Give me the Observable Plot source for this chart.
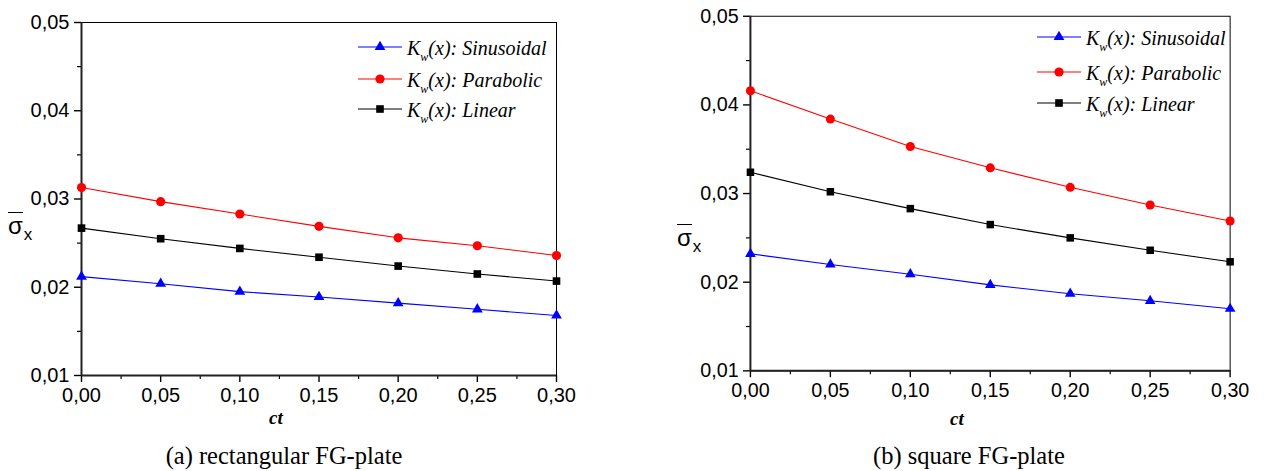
<!DOCTYPE html>
<html>
<head>
<meta charset="utf-8">
<script src="https://cdn.jsdelivr.net/npm/d3@7"></script>
<script src="https://cdn.jsdelivr.net/npm/@observablehq/plot@0.6"></script>
<style>
  html, body { margin: 0; padding: 0; background: #fff; }
  #wrap { position: relative; width: 1271px; height: 471px; background: #fff; overflow: hidden; }
  .abs { position: absolute; }
  .ylab { font-family: 'Liberation Sans', Arial, sans-serif; font-size: 24px; line-height: 1; white-space: nowrap; }
  .ylab .sig { border-top: 1.6px solid #000; padding-top: 2px; display: inline-block; line-height: 0.9; }
  .ylab sub { font-size: 17px; vertical-align: -6px; margin-left: 1px; }
  .ct { font-family: 'Liberation Serif', 'Times New Roman', serif; font-style: italic; font-weight: bold; font-size: 19px; }
  .cap { font-family: 'Liberation Serif', 'Times New Roman', serif; font-size: 24.5px; white-space: nowrap; transform: translateX(-50%); }
</style>
</head>
<body>
<div id="wrap">
  <div id="pa" class="abs" style="left:0;top:0"></div>
  <div id="pb" class="abs" style="left:680px;top:0"></div>
  <div class="abs ylab" style="left:8px;top:212px"><span class="sig">σ</span><sub>x</sub></div>
  <div class="abs ylab" style="left:677px;top:224px"><span class="sig">σ</span><sub>x</sub></div>
  <div class="abs ct" style="left:269px;top:407px">ct</div>
  <div class="abs ct" style="left:950px;top:408px">ct</div>
  <div class="abs cap" style="left:284px;top:442px">(a) rectangular FG-plate</div>
  <div class="abs cap" style="left:969px;top:442px">(b) square FG-plate</div>
  <svg id="lga" class="abs" style="left:0;top:0" width="1271" height="471"></svg>
</div>
<script>
// ---- data ----
const ct = [0, 0.05, 0.10, 0.15, 0.20, 0.25, 0.30];
const xTicks = [0, 0.05, 0.10, 0.15, 0.20, 0.25, 0.30];
const xMinor = [0.025, 0.075, 0.125, 0.175, 0.225, 0.275];
const yTicks = [0.01, 0.02, 0.03, 0.04, 0.05];
const yMinor = [0.015, 0.025, 0.035, 0.045];

const seriesNames = ["Sinusoidal", "Parabolic", "Linear"];
const seriesColors = ["#0000ff", "#ff0000", "#000000"];
const seriesSymbols = ["triangle", "circle", "square"];

// (a) rectangular FG-plate
const rectSin = [0.0212, 0.0204, 0.0195, 0.0189, 0.0182, 0.0175, 0.0168];
const rectPar = [0.0313, 0.0297, 0.0283, 0.0269, 0.0256, 0.0247, 0.0236];
const rectLin = [0.0267, 0.0255, 0.0244, 0.0234, 0.0224, 0.0215, 0.0207];

// (b) square FG-plate
const sqSin = [0.0232, 0.0220, 0.0209, 0.0197, 0.0187, 0.0179, 0.0170];
const sqPar = [0.0416, 0.0384, 0.0353, 0.0329, 0.0307, 0.0287, 0.0269];
const sqLin = [0.0324, 0.0302, 0.0283, 0.0265, 0.0250, 0.0236, 0.0223];

const fmt = d => d.toFixed(2).replace(".", ",");
const symR = {triangle: 4.0, circle: 4.6, square: 4.3};

function rows(vals) { return ct.map((x, i) => ({x, y: vals[i]})); }

function panel(seriesVals, m) {
  const marks = [
    Plot.frame({stroke: "#000", strokeWidth: 1}),
    Plot.axisX({ticks: xTicks, tickFormat: fmt, tickSize: 7, tickPadding: 5, label: null, fontSize: 20, strokeWidth: 1.4}),
    Plot.axisX({ticks: xMinor, tickFormat: () => "", tickSize: 4, label: null, strokeWidth: 1.2}),
    Plot.axisY({ticks: yTicks, tickFormat: fmt, tickSize: 7, tickPadding: 5, label: null, fontSize: 20, strokeWidth: 1.4}),
    Plot.axisY({ticks: yMinor, tickFormat: () => "", tickSize: 4, label: null, strokeWidth: 1.2}),
    Plot.ruleX([0], {stroke: "#222", strokeWidth: 2}),
    Plot.ruleY([0.01], {stroke: "#222", strokeWidth: 2})
  ];
  seriesVals.forEach((vals, i) => {
    marks.push(Plot.line(rows(vals), {x: "x", y: "y", stroke: seriesColors[i], strokeWidth: 1.1}));
  });
  seriesVals.forEach((vals, i) => {
    marks.push(Plot.dot(rows(vals), {x: "x", y: "y", symbol: seriesSymbols[i], fill: seriesColors[i], stroke: "none", r: symR[seriesSymbols[i]]}));
  });
  return Plot.plot({
    width: m.width, height: m.height,
    marginLeft: m.ml, marginRight: m.mr, marginTop: m.mt, marginBottom: m.mb,
    style: {fontFamily: "'Liberation Sans', Arial, sans-serif", fontSize: "20px", color: "#000", background: "transparent", overflow: "visible"},
    x: {domain: [0, 0.3]},
    y: {domain: [0.01, 0.05]},
    marks
  });
}

document.getElementById("pa").appendChild(panel([rectSin, rectPar, rectLin], {width: 600, height: 410, ml: 81, mr: 44, mt: 22, mb: 35}));
document.getElementById("pb").appendChild(panel([sqSin, sqPar, sqLin], {width: 600, height: 411, ml: 71, mr: 42, mt: 16, mb: 35}));

// ---- legends ----
const svg = d3.select("#lga");
function legend(x0, rowsY) {
  seriesNames.forEach((name, i) => {
    const y = rowsY[i];
    const g = svg.append("g");
    g.append("line").attr("x1", x0).attr("x2", x0 + 44).attr("y1", y).attr("y2", y)
      .attr("stroke", seriesColors[i]).attr("stroke-width", 1.1);
    const symType = {triangle: d3.symbolTriangle, circle: d3.symbolCircle, square: d3.symbolSquare}[seriesSymbols[i]];
    const r = symR[seriesSymbols[i]];
    g.append("path").attr("d", d3.symbol(symType, Math.PI * r * r)())
      .attr("transform", `translate(${x0 + 22},${y})`).attr("fill", seriesColors[i]);
    const t = g.append("text").attr("x", x0 + 49).attr("y", y + 8)
      .attr("font-family", "'Liberation Serif', 'Times New Roman', serif")
      .attr("font-style", "italic").attr("font-size", 20).attr("fill", "#000");
    t.append("tspan").text("K");
    t.append("tspan").attr("font-size", 12).attr("dy", 6).text("w");
    t.append("tspan").attr("dy", -6).text("(x): " + name);
  });
}
legend(358, [47, 79, 109]);
legend(1037, [37, 72, 103]);
</script>
</body>
</html>
